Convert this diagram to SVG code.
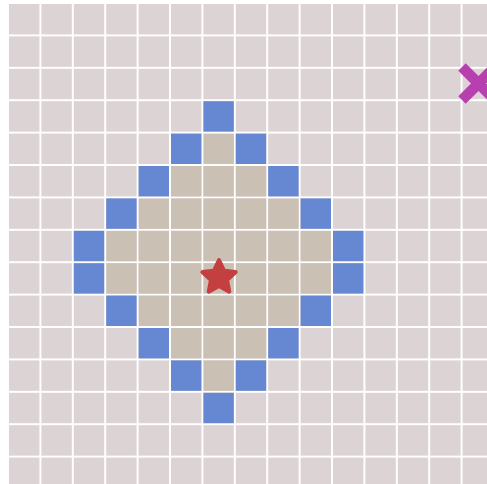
<svg xmlns="http://www.w3.org/2000/svg" width="487" height="484" viewBox="0 0 487 484">
  <defs>
    <pattern id="gridBg" patternUnits="userSpaceOnUse" x="9" y="4" width="32.4" height="32.4">
      <rect x="0" y="0" width="30.4" height="30.4" fill="#dbd3d4"/>
    </pattern>
    <pattern id="gridTan" patternUnits="userSpaceOnUse" x="9" y="4" width="32.4" height="32.4">
      <rect x="0" y="0" width="30.4" height="30.4" fill="#cbc0b4"/>
    </pattern>
  </defs>
  <style>
    .wall { fill: #6688d2; }
    .star { fill: #c43f40; stroke: #c43f40; stroke-width: 4; stroke-linejoin: round; }
    .goal { stroke: #b73fae; stroke-width: 10.5; fill: none; }
  </style>
  <rect x="0" y="0" width="487" height="484" fill="#ffffff"/>
  <rect x="9" y="4" width="478" height="480" fill="url(#gridBg)"/>
  <g id="interior">
    <path fill="url(#gridTan)" d="M203.4,133.6 H235.8 V166 H268.2 V198.4 H300.6 V230.8 H333 V295.6 H300.6 V328 H268.2 V360.4 H235.8 V392.8 H203.4 V360.4 H171 V328 H138.6 V295.6 H106.2 V230.8 H138.6 V198.4 H171 V166 H203.4 Z"/>
  </g>
  <g id="border">
    <rect class="wall" x="203.4" y="101.2" width="30.4" height="30.4"/>
    <rect class="wall" x="171" y="133.6" width="30.4" height="30.4"/>
    <rect class="wall" x="235.8" y="133.6" width="30.4" height="30.4"/>
    <rect class="wall" x="138.6" y="166" width="30.4" height="30.4"/>
    <rect class="wall" x="268.2" y="166" width="30.4" height="30.4"/>
    <rect class="wall" x="106.2" y="198.4" width="30.4" height="30.4"/>
    <rect class="wall" x="300.6" y="198.4" width="30.4" height="30.4"/>
    <rect class="wall" x="73.8" y="230.8" width="30.4" height="30.4"/>
    <rect class="wall" x="333" y="230.8" width="30.4" height="30.4"/>
    <rect class="wall" x="73.8" y="263.2" width="30.4" height="30.4"/>
    <rect class="wall" x="333" y="263.2" width="30.4" height="30.4"/>
    <rect class="wall" x="106.2" y="295.6" width="30.4" height="30.4"/>
    <rect class="wall" x="300.6" y="295.6" width="30.4" height="30.4"/>
    <rect class="wall" x="138.6" y="328" width="30.4" height="30.4"/>
    <rect class="wall" x="268.2" y="328" width="30.4" height="30.4"/>
    <rect class="wall" x="171" y="360.4" width="30.4" height="30.4"/>
    <rect class="wall" x="235.8" y="360.4" width="30.4" height="30.4"/>
    <rect class="wall" x="203.4" y="392.8" width="30.4" height="30.4"/>
  </g>
  <g id="start">
    <polygon class="star" points="219,260 224,270.62 235.64,272.09 227.08,280.13 229.29,291.66 219,286 208.71,291.66 210.92,280.13 202.36,272.09 214,270.62"/>
  </g>
  <g id="target">
    <line class="goal" x1="462" y1="67" x2="495" y2="100"/>
    <line class="goal" x1="462" y1="100" x2="495" y2="67"/>
  </g>
</svg>
